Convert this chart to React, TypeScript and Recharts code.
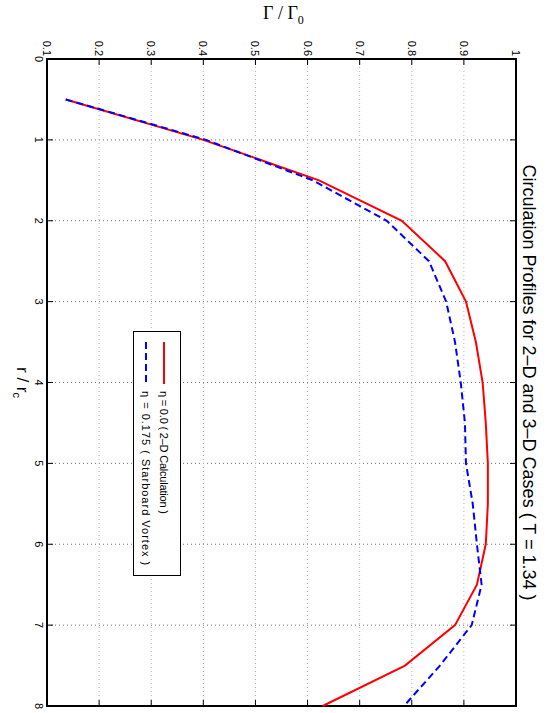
import { LineChart, Line, XAxis, YAxis, CartesianGrid, ReferenceArea, Legend } from 'recharts';

// r / r_c sample points
const rValues = [0.5, 1, 1.5, 2, 2.5, 3, 3.5, 4, 4.5, 5, 5.5, 6, 6.5, 7, 7.5, 8];
// Gamma / Gamma_0, eta = 0.0 (2-D calculation)
const gamma2D = [0.136, 0.4, 0.622, 0.781, 0.864, 0.904, 0.923, 0.936, 0.942, 0.946, 0.946, 0.942, 0.925, 0.883, 0.787, 0.629];
// Gamma / Gamma_0, eta = 0.175 (starboard vortex)
const gamma3D = [0.136, 0.405, 0.61, 0.752, 0.833, 0.866, 0.883, 0.894, 0.902, 0.904, 0.917, 0.925, 0.934, 0.915, 0.854, 0.785];

const rTicks = [0, 1, 2, 3, 4, 5, 6, 7, 8];
const gammaTicks = [0.1, 0.2, 0.3, 0.4, 0.5, 0.6, 0.7, 0.8, 0.9, 1];
const seriesNames = ['η = 0.0 ( 2–D Calculation )', 'η = 0.175 ( Starboard Vortex )'];

const data = rValues.map((r, i) => ({ r, g2d: gamma2D[i], g3d: gamma3D[i] }));

// chart is drawn landscape, then turned 90deg clockwise
const W = 713;
const H = 552;
const PL = 59;
const PR = 706;
const PT = 36;
const PB = 505;
const TICK = 6;
const sans = '"Liberation Sans", Arial, Helvetica, sans-serif';

const RTick = (props: any) => {
  const { x, payload } = props;
  return (
    <g>
      <line x1={x} x2={x} y1={PB} y2={PB - TICK} stroke="#000" strokeWidth={1} />
      <line x1={x} x2={x} y1={PT} y2={PT + TICK} stroke="#000" strokeWidth={1} />
      <text x={x} y={PB + 12} textAnchor="middle" fontSize={11} fontFamily={sans} fill="#000">
        {String(payload.value)}
      </text>
    </g>
  );
};

const GammaTick = (props: any) => {
  const { y, payload } = props;
  return (
    <g>
      <line x1={PL} x2={PL + TICK} y1={y} y2={y} stroke="#000" strokeWidth={1} />
      <line x1={PR} x2={PR - TICK} y1={y} y2={y} stroke="#000" strokeWidth={1} />
      <text x={PL - 3} y={y + 4} textAnchor="end" fontSize={11} fontFamily={sans} fill="#000">
        {String(payload.value)}
      </text>
    </g>
  );
};

const renderLegend = (props: any) => {
  const items = props.payload || [];
  return (
    <div
      style={{
        position: 'relative',
        width: 243,
        height: 46,
        border: '1px solid #000',
        background: '#fff',
        fontFamily: sans,
        fontSize: 11,
        color: '#000',
      }}
    >
      {items.map((it: any, i: number) => (
        <div key={i} style={{ position: 'absolute', left: 10, top: 9 + i * 18, height: 14, display: 'flex', alignItems: 'center', whiteSpace: 'nowrap' }}>
          <svg width={42} height={4} style={{ display: 'block' }}>
            <line x1={0} x2={42} y1={2} y2={2} stroke={it.color} strokeWidth={2} strokeDasharray={it.payload?.strokeDasharray} />
          </svg>
          <span style={{ marginLeft: 7, letterSpacing: i === 0 ? '-0.2px' : '1px' }}>{it.value}</span>
        </div>
      ))}
    </div>
  );
};

export default function App() {
  return (
    <div style={{ position: 'absolute', left: 0, top: 0, width: 552, height: 713, overflow: 'hidden', background: '#fff' }}>
      <div
        style={{
          position: 'absolute',
          left: 263,
          top: 4,
          fontFamily: '"Liberation Serif", "Times New Roman", serif',
          fontSize: 18,
          lineHeight: '18px',
          whiteSpace: 'nowrap',
        }}
      >
        Γ / Γ<sub style={{ fontSize: 12 }}>0</sub>
      </div>
      <div
        style={{
          position: 'absolute',
          left: 0,
          top: 0,
          width: W,
          height: H,
          transformOrigin: '0 0',
          transform: `translate(${552}px, 0px) rotate(90deg)`,
        }}
      >
        <div
          style={{
            position: 'absolute',
            left: PL,
            width: PR - PL,
            top: 14,
            textAlign: 'center',
            fontFamily: sans,
            fontSize: 18,
            lineHeight: '18px',
            whiteSpace: 'nowrap',
          }}
        >
          Circulation Profiles for 2–D and 3–D Cases ( T = 1.34 )
        </div>
        <div
          style={{
            position: 'absolute',
            left: PL,
            width: PR - PL,
            top: 521,
            textAlign: 'center',
            fontFamily: sans,
            fontSize: 17,
            lineHeight: '17px',
            whiteSpace: 'nowrap',
          }}
        >
          r / r<sub style={{ fontSize: 11 }}>c</sub>
        </div>
        <LineChart width={W} height={H} data={data} margin={{ top: PT, right: W - PR, bottom: 0, left: 0 }}>
          <CartesianGrid horizontal={false} stroke="#707070" strokeDasharray="1 3" />
          <CartesianGrid vertical={false} stroke="#b0b0b0" strokeDasharray="1 3" />
          <XAxis
            type="number"
            dataKey="r"
            domain={[0, 8]}
            ticks={rTicks}
            height={H - PB}
            axisLine={false}
            tickLine={false}
            tick={<RTick />}
            interval={0}
          />
          <YAxis
            type="number"
            domain={[0.1, 1]}
            ticks={gammaTicks}
            width={PL}
            axisLine={false}
            tickLine={false}
            tick={<GammaTick />}
            interval={0}
          />
          <ReferenceArea x1={0} x2={8} y1={0.1} y2={1} fill="none" fillOpacity={0} stroke="#000" strokeWidth={2} />
          <Legend
            layout="vertical"
            align="center"
            verticalAlign="middle"
            content={renderLegend}
            wrapperStyle={{ left: 331, top: 371, width: 245, height: 48 }}
          />
          <Line
            type="linear"
            dataKey="g2d"
            name={seriesNames[0]}
            stroke="#ff0000"
            strokeWidth={2}
            dot={false}
            isAnimationActive={false}
          />
          <Line
            type="linear"
            dataKey="g3d"
            name={seriesNames[1]}
            stroke="#0000ff"
            strokeWidth={2}
            strokeDasharray="7 4"
            dot={false}
            isAnimationActive={false}
          />
        </LineChart>
      </div>
    </div>
  );
}
